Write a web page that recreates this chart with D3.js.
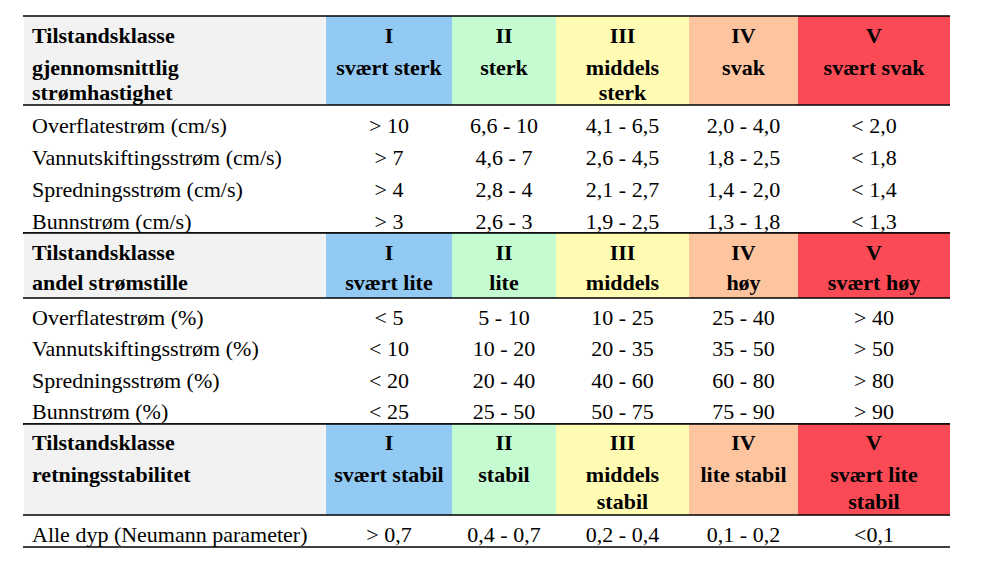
<!DOCTYPE html>
<html>
<head>
<meta charset="utf-8">
<script src="https://cdn.jsdelivr.net/npm/d3@7"></script>
<style>
  html, body { margin: 0; padding: 0; background: #fff; }
  svg { display: block; }
  text { font-family: "Liberation Serif", "Times New Roman", serif; font-size: 22px; fill: #000; }
  .b { font-weight: bold; }
</style>
</head>
<body>
<svg id="chart" width="998" height="574"></svg>
<script>
// ---------- data ----------
const classNumerals = ["I", "II", "III", "IV", "V"];
const classColors = ["#93caf3", "#c5fbd0", "#fffbb3", "#fcc5a0", "#f94a55"];

const headerLeft1 = ["Tilstandsklasse", "gjennomsnittlig", "strømhastighet"];
const headerLeft2 = ["Tilstandsklasse", "andel strømstille"];
const headerLeft3 = ["Tilstandsklasse", "retningsstabilitet"];

const classNames1 = [["svært sterk"], ["sterk"], ["middels", "sterk"], ["svak"], ["svært svak"]];
const classNames2 = [["svært lite"], ["lite"], ["middels"], ["høy"], ["svært høy"]];
const classNames3 = [["svært stabil"], ["stabil"], ["middels", "stabil"], ["lite stabil"], ["svært lite", "stabil"]];

const rowLabels1 = ["Overflatestrøm (cm/s)", "Vannutskiftingsstrøm (cm/s)", "Spredningsstrøm (cm/s)", "Bunnstrøm (cm/s)"];
const rowValues1 = [
  ["> 10", "6,6 - 10", "4,1 - 6,5", "2,0 - 4,0", "< 2,0"],
  ["> 7", "4,6 - 7", "2,6 - 4,5", "1,8 - 2,5", "< 1,8"],
  ["> 4", "2,8 - 4", "2,1 - 2,7", "1,4 - 2,0", "< 1,4"],
  ["> 3", "2,6 - 3", "1,9 - 2,5", "1,3 - 1,8", "< 1,3"]
];

const rowLabels2 = ["Overflatestrøm (%)", "Vannutskiftingsstrøm (%)", "Spredningsstrøm (%)", "Bunnstrøm (%)"];
const rowValues2 = [
  ["< 5", "5 - 10", "10 - 25", "25 - 40", "> 40"],
  ["< 10", "10 - 20", "20 - 35", "35 - 50", "> 50"],
  ["< 20", "20 - 40", "40 - 60", "60 - 80", "> 80"],
  ["< 25", "25 - 50", "50 - 75", "75 - 90", "> 90"]
];

const rowLabels3 = ["Alle dyp (Neumann parameter)"];
const rowValues3 = [
  ["> 0,7", "0,4 - 0,7", "0,2 - 0,4", "0,1 - 0,2", "<0,1"]
];

// ---------- layout ----------
const svg = d3.select("#chart");

// column scale: column i spans x(i) .. x(i+1); 0 = label column, 1..5 = classes
const x = d3.scaleLinear().domain([0, 1, 2, 3, 4, 5, 6]).range([24, 326, 452, 556, 689, 798, 950]);
const colMid = i => (x(i) + x(i + 1)) / 2;
const labelX = 32;

const sections = [
  { left: headerLeft1, names: classNames1, labels: rowLabels1, values: rowValues1,
    hTop: 16, hBot: 105, dBot: 233, lines: [27, 59, 84], rowOff: 4.5 },
  { left: headerLeft2, names: classNames2, labels: rowLabels2, values: rowValues2,
    hTop: 233, hBot: 298, dBot: 424, lines: [27, 57], rowOff: 5 },
  { left: headerLeft3, names: classNames3, labels: rowLabels3, values: rowValues3,
    hTop: 424, hBot: 515, dBot: 547, lines: [26, 58, 85], rowOff: 5 }
];

sections.forEach(s => {
  const g = svg.append("g");
  // header backgrounds
  g.append("rect").attr("x", x(0)).attr("y", s.hTop).attr("width", x(1) - x(0))
    .attr("height", s.hBot - s.hTop).attr("fill", "#f2f2f2");
  g.selectAll("rect.cls").data(classColors).join("rect").attr("class", "cls")
    .attr("x", (d, i) => x(i + 1)).attr("y", s.hTop)
    .attr("width", (d, i) => x(i + 2) - x(i + 1)).attr("height", s.hBot - s.hTop)
    .attr("fill", d => d);

  // header left text
  g.selectAll("text.hl").data(s.left).join("text").attr("class", "hl b")
    .attr("x", labelX).attr("y", (d, i) => s.hTop + s.lines[i]).text(d => d);

  // numerals
  g.selectAll("text.num").data(classNumerals).join("text").attr("class", "num b")
    .attr("x", (d, i) => colMid(i + 1)).attr("y", s.hTop + s.lines[0])
    .attr("text-anchor", "middle").text(d => d);

  // class names
  s.names.forEach((lines, i) => {
    g.selectAll(null).data(lines).join("text").attr("class", "b")
      .attr("x", colMid(i + 1)).attr("y", (d, j) => s.hTop + s.lines[j + 1])
      .attr("text-anchor", "middle").text(d => d);
  });

  // data rows
  const y = d3.scaleBand().domain(s.labels).range([s.hBot, s.dBot]);
  g.selectAll("text.rl").data(s.labels).join("text").attr("class", "rl")
    .attr("x", labelX).attr("y", d => y(d) + y.bandwidth() - s.rowOff).text(d => d);
  s.values.forEach((row, r) => {
    g.selectAll(null).data(row).join("text")
      .attr("x", (d, i) => colMid(i + 1))
      .attr("y", y(s.labels[r]) + y.bandwidth() - s.rowOff)
      .attr("text-anchor", "middle").text(d => d);
  });

  // rules
  [s.hTop, s.hBot, s.dBot].forEach(yy => {
    g.append("line").attr("x1", 23).attr("x2", 950).attr("y1", yy).attr("y2", yy)
      .attr("stroke", "#000").attr("stroke-width", 1.5);
  });
});
</script>
</body>
</html>
